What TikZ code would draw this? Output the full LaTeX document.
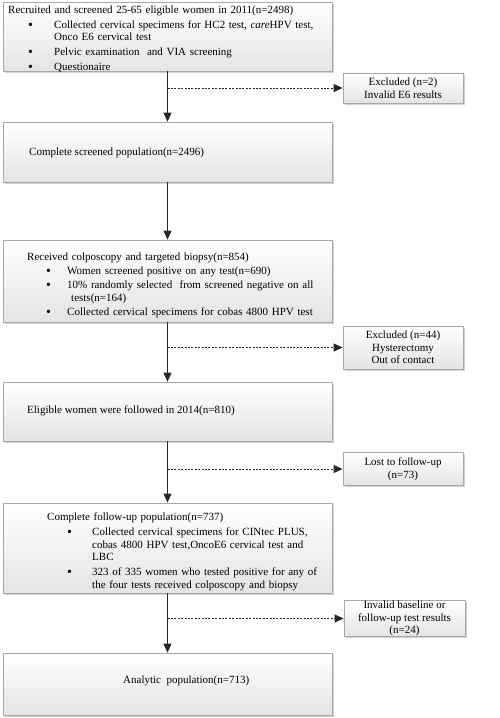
\documentclass[tikz,border=0pt]{standalone}
\usepackage{fontspec}
\setmainfont{Liberation Serif}
\usetikzlibrary{arrows.meta,shadows}
\definecolor{boxline}{RGB}{168,168,168}
\definecolor{boxbot}{RGB}{228,228,228}
\definecolor{arrcol}{RGB}{38,38,38}
\newlength\itemgap
\newcommand\bigbul{\raisebox{-0.9pt}{\fontsize{14pt}{14pt}\selectfont\textbullet}}
\newcommand\bitem[3]{\par\vspace{\itemgap}\noindent\hangindent=#2\relax\hangafter=1\relax\makebox[#2][l]{\hspace*{#1}\bigbul}#3\par}
\begin{document}
\begin{tikzpicture}[x=1pt,y=-1pt,
  box/.style={draw=boxline, line width=0.8pt, top color=white, bottom color=boxbot,
    drop shadow={shadow xshift=1.6pt,shadow yshift=-1.6pt,fill=black,opacity=0.18},
    inner sep=0pt},
  mainbox/.style={box, minimum width=329pt},
  sidebox/.style={box, minimum width=120pt, align=center,
    font=\fontsize{11pt}{12.7pt}\selectfont},
  txt/.style={inner sep=0pt, font=\fontsize{11pt}{12.3pt}\selectfont},
  listtxt/.style={txt, align=left, anchor=north west},
  solidarr/.style={draw=arrcol, line width=1.1pt, -{Triangle[length=9pt,width=8pt]}},
  dasharr/.style={draw=arrcol, line width=0.9pt, dash pattern=on 2pt off 1.4pt, -{Triangle[length=9pt,width=8pt]}}
]
\useasboundingbox (0,0) rectangle (500,718);

% main boxes
\node[mainbox, minimum height=69pt] (b1) at (167.5,36.5) {};
\node[mainbox, minimum height=60pt] (b2) at (167.5,152) {};
\node[mainbox, minimum height=82pt] (b3) at (167.5,281) {};
\node[mainbox, minimum height=59pt] (b4) at (167.5,411.5) {};
\node[mainbox, minimum height=90pt] (b5) at (167.5,548) {};
\node[mainbox, minimum height=62pt] (b6) at (167.5,684) {};

% side boxes
\node[sidebox, minimum height=30pt] (s1) at (403,88) {Excluded (n=2)\\Invalid E6 results};
\node[sidebox, minimum height=43pt] (s2) at (403,347.5) {Excluded (n=44)\\Hysterectomy\\Out of contact};
\node[sidebox, minimum height=33pt] (s3) at (403,469) {Lost to follow-up\\(n=73)};
\node[sidebox, minimum height=31pt, minimum width=121pt] (s4) at (404.5,618.5) {Invalid baseline or\\follow-up test results\\(n=24)};

% texts
\node[listtxt, text width=320pt] (t1) at (8,5.3) {\setlength\itemgap{2.7pt}\noindent
Recruited and screened 25-65 eligible women in 2011(n=2498)
\bitem{20pt}{46pt}{Collected cervical specimens for HC2 test, \textit{care}HPV test,\linebreak Onco E6 cervical test}
\bitem{20pt}{46pt}{Pelvic examination\ \ and VIA screening}
\bitem{20pt}{46pt}{Questionaire}};

\node[txt, anchor=west] (t2) at (29,152.5) {Complete screened population(n=2496)};

\node[listtxt, text width=310pt] (t3) at (27,252.3) {\setlength\itemgap{2pt}\noindent
Received colposcopy and targeted biopsy(n=854)
\bitem{19pt}{40pt}{Women screened positive on any test(n=690)}
\bitem{19pt}{40pt}{10\% randomly selected\ \ from screened negative on all\linebreak\hspace*{4pt}tests(n=164)}
\bitem{19pt}{40pt}{Collected cervical specimens for cobas 4800 HPV test}};

\node[txt, anchor=west] (t4) at (27,411) {Eligible women were followed in 2014(n=810)};

\node[listtxt, text width=300pt, font=\fontsize{11pt}{12.6pt}\selectfont] (t5) at (47,512.3) {\setlength\itemgap{2.6pt}\noindent
Complete follow-up population(n=737)
\bitem{20pt}{45pt}{Collected cervical specimens for CINtec PLUS,\linebreak cobas 4800 HPV test,OncoE6 cervical test and\linebreak LBC}
\bitem{20pt}{45pt}{323 of 335 women who tested positive for any of\linebreak the four tests received colposcopy and biopsy}};

\node[txt, anchor=west] (t6) at (123,681) {Analytic\ \ population(n=713)};

% connectors
\draw[solidarr] (b1.south) -- (b2.north);
\draw[solidarr] (b2.south) -- (b3.north);
\draw[solidarr] (b3.south) -- (b4.north);
\draw[solidarr] (b4.south) -- (b5.north);
\draw[solidarr] (b5.south) -- (b6.north);

\draw[dasharr] (b1.south |- s1.west) -- (s1.west);
\draw[dasharr] (b3.south |- s2.west) -- (s2.west);
\draw[dasharr] (b4.south |- s3.west) -- (s3.west);
\draw[dasharr] (b5.south |- s4.west) -- (s4.west);
\end{tikzpicture}
\end{document}
